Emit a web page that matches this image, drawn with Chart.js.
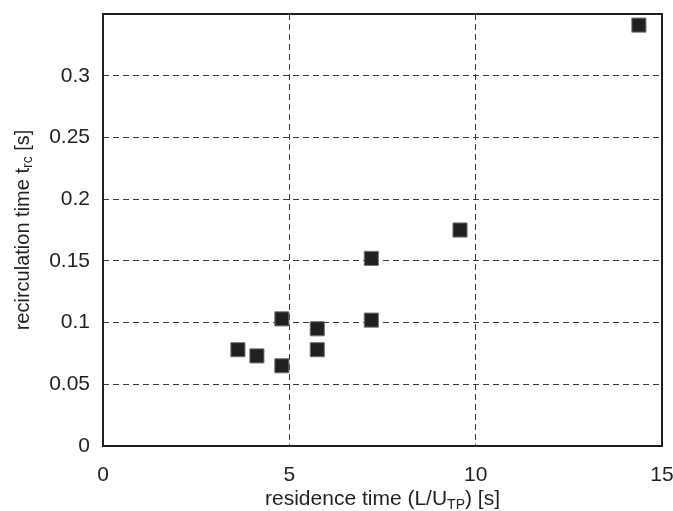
<!DOCTYPE html>
<html>
<head>
<meta charset="utf-8">
<script src="https://cdn.jsdelivr.net/npm/chart.js@4/dist/chart.umd.min.js"></script>
<style>
  html, body { margin: 0; padding: 0; background: #fff; }
  #wrap { width: 673px; height: 511px; }
</style>
</head>
<body>
<div id="wrap"><canvas id="myChart"></canvas></div>
<script>
// residence time (L/U_TP) [s]
var residenceTime = [3.62, 4.13, 4.80, 4.80, 5.75, 5.75, 7.20, 7.20, 9.58, 14.38];
// recirculation time t_rc [s]
var recircTime = [0.078, 0.073, 0.103, 0.065, 0.095, 0.078, 0.152, 0.102, 0.175, 0.341];
var xTicks = [0, 5, 10, 15];
var yTicks = [0, 0.05, 0.1, 0.15, 0.2, 0.25, 0.3];

var FONT = '"Liberation Sans", Arial, Helvetica, sans-serif';

document.addEventListener('DOMContentLoaded', function(){
    var points = residenceTime.map(function(x, i){ return {x: x, y: recircTime[i]}; });

    // draws box around plot and the axis titles with subscripts
    var framePlugin = {
        id: 'frame',
        afterDraw: function(chart){
            var ctx = chart.ctx;
            var a = chart.chartArea;
            ctx.save();
            ctx.strokeStyle = '#231f20';
            ctx.lineWidth = 2;
            ctx.strokeRect(a.left, a.top, a.right - a.left, a.bottom - a.top);

            var parts = [
                {t: 'residence time (L/U', sub: false},
                {t: 'TP', sub: true},
                {t: ') [s]', sub: false}
            ];
            drawParts(ctx, parts, 21, (a.left + a.right) / 2, 499, 0);
            var yparts = [
                {t: 'recirculation time t', sub: false},
                {t: 'rc', sub: true},
                {t: ' [s]', sub: false}
            ];
            drawParts(ctx, yparts, 20, 23, (a.top + a.bottom) / 2, -Math.PI / 2);
            ctx.restore();
        }
    };

    function drawParts(ctx, parts, size, cx, cy, rot){
        var big = size + 'px ' + FONT, small = Math.round(size * 0.68) + 'px ' + FONT;
        var total = 0;
        parts.forEach(function(p){
            ctx.font = p.sub ? small : big;
            p.w = ctx.measureText(p.t).width;
            total += p.w;
        });
        ctx.save();
        ctx.translate(cx, cy);
        ctx.rotate(rot);
        ctx.fillStyle = '#231f20';
        ctx.textBaseline = 'middle';
        ctx.textAlign = 'left';
        var x = -total / 2;
        parts.forEach(function(p){
            ctx.font = p.sub ? small : big;
            ctx.fillText(p.t, x, p.sub ? size * 0.28 : 0);
            x += p.w;
        });
        ctx.restore();
    }

    function noPad(axis){
        axis.paddingLeft = 0;
        axis.paddingRight = 0;
        axis.paddingTop = 0;
        axis.paddingBottom = 0;
    }

    var ctx = document.getElementById('myChart').getContext('2d');
    var myChart = new Chart(ctx, {
        type: 'scatter',
        data: {
            datasets: [{
                label: 'recirculation time',
                data: points,
                pointStyle: 'rect',
                pointRadius: 10,
                pointHoverRadius: 10,
                backgroundColor: '#231f20',
                borderColor: '#77787b',
                borderWidth: 1
            }]
        },
        options: {
            responsive: true,
            maintainAspectRatio: false,
            animation: false,
            events: [],
            layout: { padding: { top: 14, right: 11, left: 0, bottom: 0 } },
            plugins: {
                legend: { display: false },
                tooltip: { enabled: false }
            },
            scales: {
                x: {
                    type: 'linear',
                    min: 0,
                    max: 15,
                    afterBuildTicks: function(axis){
                        axis.ticks = xTicks.map(function(v){ return {value: v}; });
                    },
                    afterFit: function(axis){ axis.height = 65; noPad(axis); },
                    grid: {
                        color: '#3a3a3a',
                        lineWidth: 1,
                        drawTicks: false
                    },
                    border: { display: false, dash: [6, 4] },
                    ticks: {
                        color: '#231f20',
                        padding: 17,
                        maxRotation: 0,
                        font: { family: FONT, size: 21 }
                    }
                },
                y: {
                    type: 'linear',
                    min: 0,
                    max: 0.35,
                    afterBuildTicks: function(axis){
                        axis.ticks = yTicks.map(function(v){ return {value: v}; });
                    },
                    afterFit: function(axis){ axis.width = 103; noPad(axis); },
                    grid: {
                        color: '#3a3a3a',
                        lineWidth: 1,
                        drawTicks: false
                    },
                    border: { display: false, dash: [6, 4] },
                    ticks: {
                        color: '#231f20',
                        padding: 13,
                        font: { family: FONT, size: 21 },
                        callback: function(v){ return String(Number(v.toFixed(2))); }
                    }
                }
            }
        },
        plugins: [framePlugin]
    });
});
</script>
</body>
</html>
